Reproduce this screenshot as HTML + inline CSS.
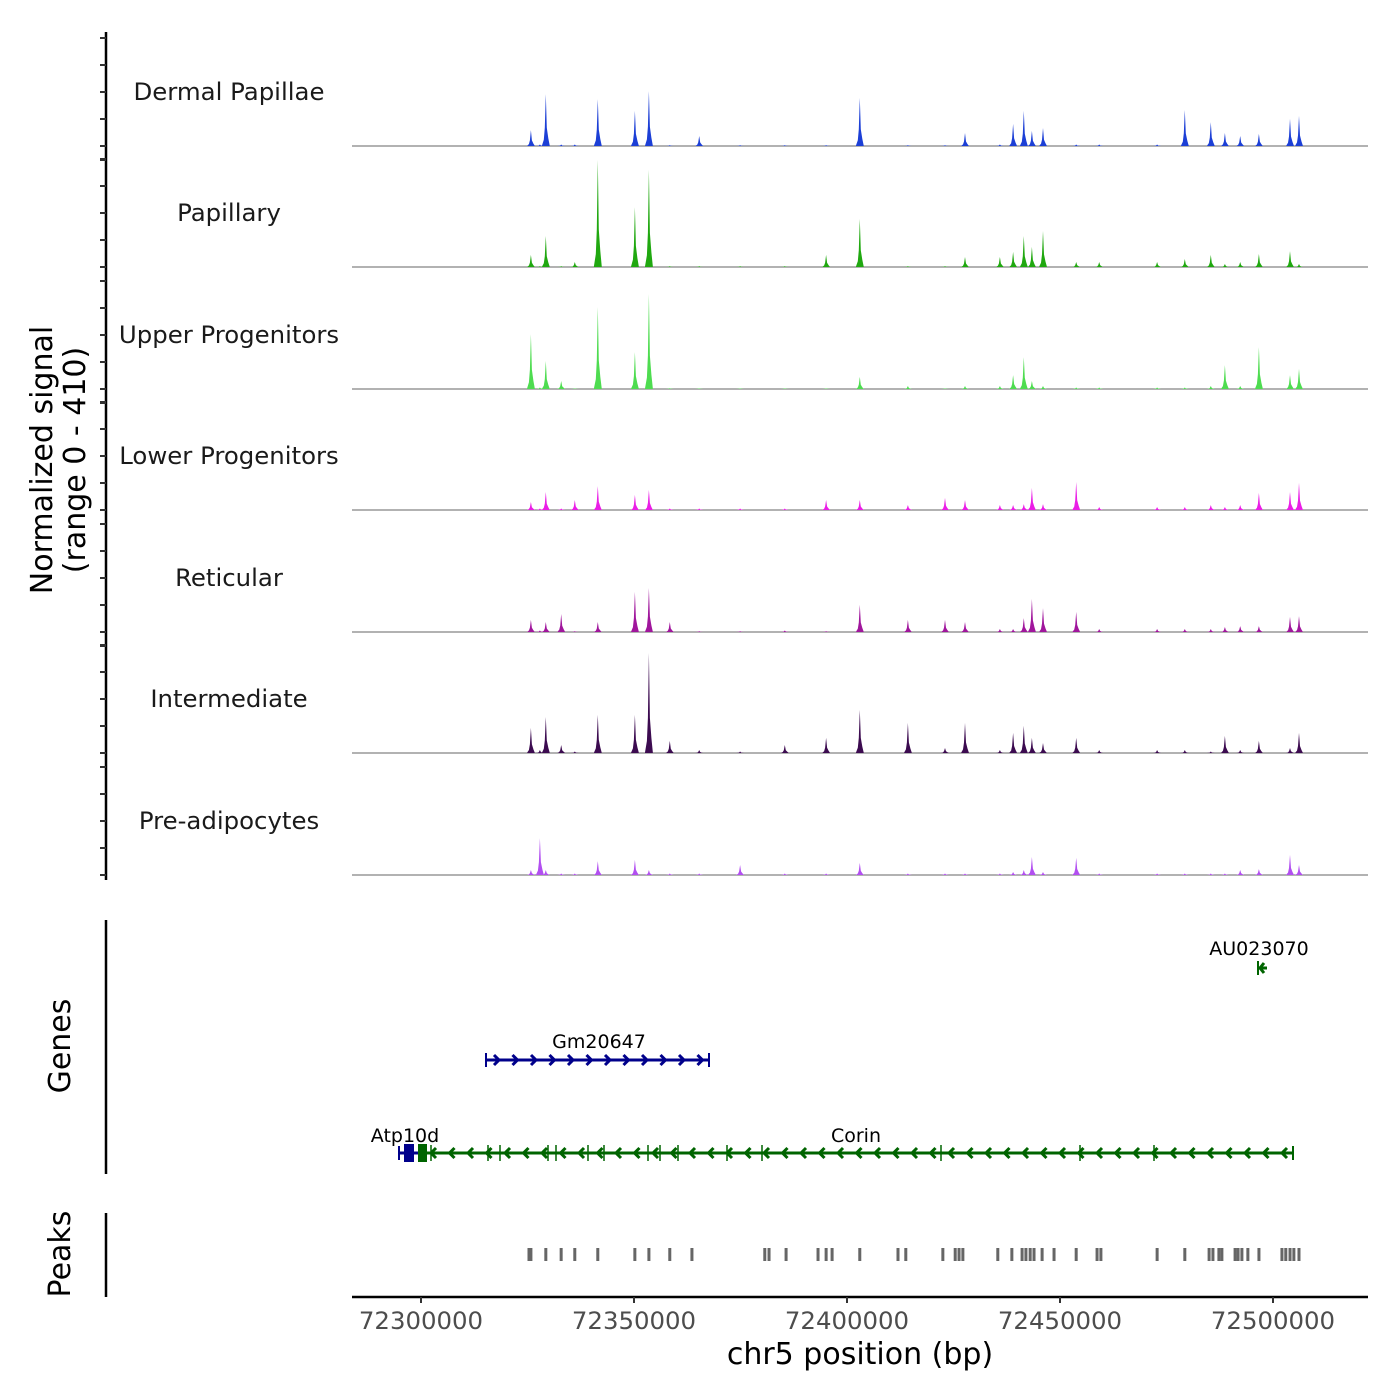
<!DOCTYPE html>
<html><head><meta charset="utf-8">
<style>
html,body{margin:0;padding:0;background:#fff;}
svg{display:block;font-family:"DejaVu Sans","Liberation Sans",sans-serif;}
</style></head>
<body>
<svg id="chart" width="1400" height="1400" viewBox="0 0 1400 1400"></svg>
<script>
const trackNames = ["Dermal Papillae","Papillary","Upper Progenitors","Lower Progenitors","Reticular","Intermediate","Pre-adipocytes"];
const trackColors = ["#1c3fd6","#20a810","#4edc50","#ea1ee6","#a0169c","#3c0b50","#b24ff0"];
const signalPosKb = [72325.8,72327.9,72329.3,72332.9,72336.1,72341.5,72350.2,72353.5,72358.4,72365.3,72374.9,72385.4,72395.1,72403.0,72414.3,72423.0,72427.7,72435.9,72439.0,72441.5,72443.4,72446.0,72453.8,72459.2,72472.8,72479.3,72485.4,72488.7,72492.3,72496.7,72504.0,72506.1];
const sigDermal = [54,5,176,5,5,159,119,186,3,34,3,3,3,163,3,3,44,5,75,119,51,61,5,5,5,122,81,44,34,41,92,102];
const sigPapillary = [41,3,105,3,17,363,203,329,3,3,3,3,41,163,3,3,34,34,51,105,68,122,17,17,17,27,41,10,17,44,54,10];
const sigUpper = [186,5,95,27,2,278,125,322,3,2,2,2,2,41,10,2,10,10,47,108,27,10,5,5,5,5,10,81,10,142,47,68];
const sigLower = [27,5,61,5,34,81,51,68,5,5,5,5,34,34,17,41,34,17,17,20,75,20,95,10,10,10,17,10,17,58,61,92];
const sigReticular = [41,5,34,61,3,34,136,149,34,3,3,5,3,92,41,41,34,10,10,47,112,81,68,10,10,10,10,17,20,20,51,54];
const sigIntermediate = [85,10,122,27,5,129,129,339,41,10,5,27,51,146,102,17,102,10,68,92,51,34,51,10,10,10,5,58,10,41,17,68];
const sigPreadipo = [17,125,17,5,5,47,51,17,5,5,34,5,5,41,5,5,5,5,10,17,61,10,58,5,5,5,5,5,17,20,68,34];
const xTicks = [72300000,72350000,72400000,72450000,72500000];
const peakStartsKb = [72325.35,72325.8,72329.3,72332.9,72336.1,72341.5,72350.2,72353.5,72358.4,72363.6,72380.7,72381.7,72385.7,72393.2,72395.1,72396.5,72403.0,72411.97,72413.8,72422.5,72425.4,72426.3,72427.2,72435.4,72438.7,72441.1,72442.0,72443.0,72443.9,72445.8,72448.6,72453.8,72458.7,72459.6,72472.8,72479.3,72485.0,72485.9,72487.3,72488.0,72491.1,72491.8,72492.7,72494.1,72496.7,72502.1,72503.0,72504.0,72504.9,72506.1];
const yMax = 410;

const NS="http://www.w3.org/2000/svg";
const svg=document.getElementById('chart');
function mk(tag,attrs,parent){const e=document.createElementNS(NS,tag);for(const k in attrs)e.setAttribute(k,attrs[k]);(parent||svg).appendChild(e);return e;}
const X0=352,X1=1368,BP0=72283803,PXBP=0.00426;
function xs(bp){return X0+(bp-BP0)*PXBP;}
const bases=[146,267,389,510,632,753,875];
const trackH=121;
function ys(v,b){return b-v/yMax*trackH;}
const allSig=[sigDermal,sigPapillary,sigUpper,sigLower,sigReticular,sigIntermediate,sigPreadipo];

let ax=mk('line',{x1:106,y1:32,x2:106,y2:880,stroke:'#000','stroke-width':2.5});


bases.forEach((b,i)=>{
  const arr=[b-108,b-81,b-54,b-27,b];
  if(i<6) arr.push(b+14);
  arr.forEach(t=>{
    const tk=mk('line',{x1:100,y1:t,x2:106,y2:t,stroke:'#333','stroke-width':2});
    
    
  });
});
let yt=mk('text',{transform:'translate(52,460) rotate(-90)','text-anchor':'middle','font-size':30,fill:'#000'});


mk('tspan',{x:0,dy:0},yt).textContent='Normalized signal';
mk('tspan',{x:0,dy:33},yt).textContent='(range 0 - 410)';

trackNames.forEach((nm,i)=>{
  const b=bases[i];
  const g=mk('g',{});
  
  
  const lb=mk('text',{x:229,y:b-46,'text-anchor':'middle','font-size':24.4,fill:'#1a1a1a'},g);
  lb.textContent=nm;
  
  
  const bl=mk('line',{x1:X0,y1:b,x2:X1,y2:b,stroke:'#666','stroke-width':1},g);
  
  
  const vals=allSig[i];
  signalPosKb.forEach((kb,j)=>{
    const x=xs(kb*1000), v=vals[j];
    const pts=[[x-4,b],[x-2,ys(v*0.12,b)],[x-1,ys(v*0.35,b)],[x,ys(v,b)],[x+1,ys(v*0.35,b)],[x+2.5,ys(v*0.15,b)],[x+4,b]];
    const p=mk('polygon',{points:pts.map(q=>q[0].toFixed(1)+','+q[1].toFixed(1)).join(' '),fill:trackColors[i]},g);
    
    
  });
});

let ga=mk('line',{x1:106,y1:920,x2:106,y2:1174,stroke:'#000','stroke-width':2.5});


let gt=mk('text',{transform:'translate(70,1046) rotate(-90)','text-anchor':'middle','font-size':30});
gt.textContent='Genes';


function gene(name,x1,x2,y,color,dir,lx,ly,exons){
  const g=mk('g',{});
  
  
  mk('line',{x1:x1,y1:y,x2:x2,y2:y,stroke:color,'stroke-width':3},g);
  for(let x=x1+12;x<x2-6;x+=18.5){
    const d=dir>0?`M${x-4},${y-5} L${x+1},${y} L${x-4},${y+5}`:`M${x+4},${y-5} L${x-1},${y} L${x+4},${y+5}`;
    mk('path',{d:d,stroke:color,'stroke-width':3,fill:'none'},g);
  }
  (exons||[]).forEach(e=>mk('line',{x1:e,y1:y-8,x2:e,y2:y+8,stroke:color,'stroke-width':1.5},g));
  [x1,x2].forEach(e=>mk('line',{x1:e,y1:y-7,x2:e,y2:y+7,stroke:color,'stroke-width':2},g));
  const t=mk('text',{x:lx,y:ly,'text-anchor':'middle','font-size':19,fill:'#000'},g);
  t.textContent=name;
}
gene('Gm20647',486,709,1060,'#00008b',1,599,1048,[]);
gene('Corin',420,1293,1153,'#006400',-1,856,1142,[431,488,500,548,556,588,604,648,660,678,727,762,941,1080,1154]);
mk('rect',{x:418,y:1144,width:9,height:18,fill:'#006400'});
let at=mk('g',{});


mk('line',{x1:399,y1:1153,x2:418,y2:1153,stroke:'#00008b','stroke-width':3},at);
mk('line',{x1:399,y1:1146,x2:399,y2:1160,stroke:'#00008b','stroke-width':2},at);
mk('rect',{x:404,y:1144,width:10,height:18,fill:'#00008b'},at);
let att=mk('text',{x:405,y:1142,'text-anchor':'middle','font-size':19},at);att.textContent='Atp10d';
let au=mk('g',{});


mk('path',{d:'M1258,968 L1267,968 M1264,963 L1260,968 L1264,973',stroke:'#006400','stroke-width':3,fill:'none'},au);
mk('line',{x1:1258,y1:961,x2:1258,y2:975,stroke:'#006400','stroke-width':2},au);
let aut=mk('text',{x:1259,y:955,'text-anchor':'middle','font-size':19},au);aut.textContent='AU023070';

let pa=mk('line',{x1:106,y1:1213,x2:106,y2:1297,stroke:'#000','stroke-width':2.5});


let pt=mk('text',{transform:'translate(70,1254) rotate(-90)','text-anchor':'middle','font-size':30});
pt.textContent='Peaks';


peakStartsKb.forEach(kb=>{
  const r=mk('rect',{x:xs(kb*1000)-1.5,y:1248,width:3,height:13,fill:'#666'});
  
  
});

let xa=mk('line',{x1:X0,y1:1297,x2:X1,y2:1297,stroke:'#000','stroke-width':2.5});


xTicks.forEach(t=>{
  const x=xs(t);
  const tk=mk('line',{x1:x,y1:1297,x2:x,y2:1303,stroke:'#333','stroke-width':2});
  
  
  const tl=mk('text',{x:x,y:1329,'text-anchor':'middle','font-size':24.4,fill:'#4d4d4d'});
  tl.textContent=String(t);
  
  
});
let xt=mk('text',{x:860,y:1364,'text-anchor':'middle','font-size':30});
xt.textContent='chr5 position (bp)';


</script>
</body></html>
